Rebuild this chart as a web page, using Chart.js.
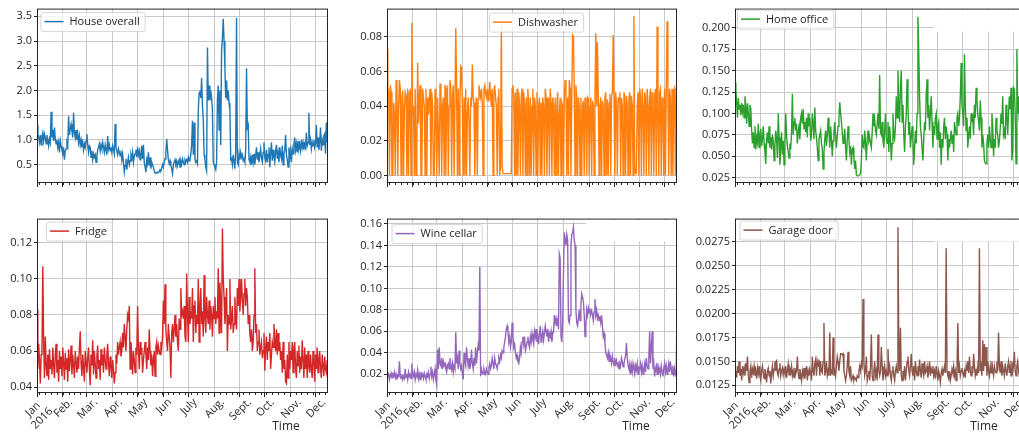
<!DOCTYPE html>
<html>
<head>
<meta charset="utf-8">
<script src="https://cdn.jsdelivr.net/npm/chart.js@4.4.1/dist/chart.umd.min.js"></script>
<style>
  html, body { margin: 0; padding: 0; background: #fff; overflow: hidden; }
  body { width: 1019px; height: 434px; position: relative; }
  canvas { position: absolute; }
</style>
</head>
<body>
<canvas id="c0"></canvas>
<canvas id="c1"></canvas>
<canvas id="c2"></canvas>
<canvas id="c3"></canvas>
<canvas id="c4"></canvas>
<canvas id="c5"></canvas>
<script>
// daily averages, 1 Jan 2016 (day 0) to 16 Dec 2016 (day 350)
const monthStarts = [0, 31, 60, 91, 121, 152, 182, 213, 244, 274, 305, 335];
const monthLabels = [['Jan', '2016'], 'Feb.', 'Mar.', 'Apr.', 'May', 'Jun', 'July', 'Aug.', 'Sept.', 'Oct.', 'Nov.', 'Dec.'];
const lastDay = 350;

const house = [
  1.30, 1.12, 1.05, 0.95, 1.10, 0.90, 1.08, 1.15, 0.98, 1.12,
  1.05, 0.92, 1.10, 1.00, 0.88, 1.02, 0.95, 1.57, 1.05, 1.20,
  0.98, 1.25, 1.02, 0.92, 1.00, 0.85, 0.95, 0.75, 0.98, 0.88,
  0.80, 0.72, 0.85, 0.60, 0.78, 0.82, 0.95, 0.88, 1.48, 1.10,
  1.22, 1.32, 1.18, 1.05, 1.55, 1.15, 1.05, 1.20, 1.00, 1.12,
  0.95, 1.08, 0.90, 1.00, 0.85, 0.95, 0.80, 0.92, 0.85, 0.98,
  1.12, 0.90, 0.75, 0.88, 0.85, 0.65, 0.78, 0.60, 0.72, 0.65,
  0.70, 0.55, 0.68, 0.80, 0.85, 0.92, 0.78, 0.90, 0.82, 0.95,
  0.85, 0.75, 0.90, 0.80, 0.70, 1.08, 0.82, 0.90, 0.78, 0.85,
  0.75, 0.88, 0.80, 0.72, 1.32, 0.85, 0.78, 0.70, 0.82, 0.75,
  0.68, 0.78, 0.60, 0.72, 0.55, 0.35, 0.48, 0.62, 0.40, 0.55,
  0.65, 0.50, 0.58, 0.70, 0.62, 0.75, 0.55, 0.68, 0.72, 0.80,
  0.65, 0.85, 0.70, 0.78, 0.60, 0.72, 0.88, 0.62, 0.90, 0.55,
  0.45, 0.35, 0.60, 0.52, 0.75, 0.48, 0.65, 0.42, 0.55, 0.50,
  0.45, 0.38, 0.33, 0.34, 0.33, 0.35, 0.34, 0.36, 0.40, 0.38,
  0.42, 0.50, 0.45, 0.55, 0.62, 0.75, 1.02, 0.80, 0.60, 0.52,
  0.58, 0.48, 0.42, 0.32, 0.50, 0.55, 0.60, 0.52, 0.58, 0.48,
  0.55, 0.60, 0.45, 0.58, 0.52, 0.62, 0.55, 0.50, 0.60, 0.56,
  0.60, 0.55, 0.65, 0.58, 0.62, 0.70, 0.90, 1.39, 0.70, 1.35,
  0.60, 0.55, 0.58, 0.52, 1.60, 1.95, 2.00, 1.85, 2.25, 1.70,
  1.40, 0.70, 0.60, 0.45, 0.38, 2.87, 1.80, 2.10, 1.80, 2.00,
  1.85, 1.60, 0.55, 0.50, 0.45, 0.40, 0.55, 1.80, 2.10, 1.20,
  2.00, 0.90, 2.80, 3.05, 3.45, 3.00, 2.45, 1.85, 2.20, 1.80,
  2.00, 1.75, 1.60, 0.60, 0.62, 0.50, 0.70, 0.55, 0.42, 0.80,
  3.47, 0.55, 0.50, 0.72, 0.60, 0.75, 0.65, 0.70, 0.58, 0.62,
  0.55, 0.80, 2.45, 1.25, 1.30, 0.60, 0.55, 0.65, 0.50, 0.70,
  0.55, 0.72, 0.50, 0.68, 0.85, 0.60, 0.75, 0.55, 0.70, 0.82,
  0.62, 0.55, 0.75, 0.95, 0.65, 0.58, 0.80, 0.55, 0.70, 0.85,
  0.45, 0.75, 0.95, 0.58, 0.80, 0.65, 0.55, 0.78, 0.90, 0.62,
  0.75, 0.55, 0.85, 0.70, 0.62, 0.88, 0.50, 0.72, 0.80, 1.10,
  0.70, 0.60, 0.45, 0.85, 0.65, 0.78, 0.55, 0.82, 0.72, 0.90,
  1.05, 0.80, 0.92, 0.75, 0.98, 0.82, 0.90, 0.78, 1.00, 0.85,
  0.95, 0.80, 0.92, 0.85, 1.15, 0.88, 0.95, 1.55, 0.90, 1.00,
  0.82, 0.95, 0.88, 1.00, 0.85, 0.92, 1.30, 0.85, 1.05, 0.80,
  0.95, 1.25, 0.78, 1.00, 0.90, 1.08, 1.12, 0.72, 1.35, 0.95,
  1.10
];

const dishwasher = [
  0.073, 0.045, 0.050, 0.000, 0.052, 0.048, 0.000, 0.000, 0.042, 0.035,
  0.000, 0.055, 0.045, 0.000, 0.040, 0.055, 0.050, 0.000, 0.045, 0.049,
  0.000, 0.040, 0.048, 0.046, 0.000, 0.050, 0.000, 0.048, 0.049, 0.000,
  0.088, 0.035, 0.040, 0.000, 0.050, 0.000, 0.015, 0.065, 0.030, 0.045,
  0.052, 0.000, 0.000, 0.050, 0.045, 0.040, 0.000, 0.050, 0.000, 0.045,
  0.035, 0.045, 0.050, 0.000, 0.048, 0.040, 0.000, 0.000, 0.050, 0.035,
  0.000, 0.045, 0.025, 0.000, 0.053, 0.050, 0.000, 0.040, 0.045, 0.000,
  0.052, 0.000, 0.048, 0.050, 0.000, 0.040, 0.055, 0.050, 0.000, 0.045,
  0.052, 0.000, 0.000, 0.085, 0.050, 0.000, 0.050, 0.000, 0.040, 0.063,
  0.062, 0.040, 0.000, 0.045, 0.000, 0.050, 0.000, 0.035, 0.045, 0.030,
  0.000, 0.045, 0.040, 0.064, 0.045, 0.042, 0.000, 0.040, 0.045, 0.000,
  0.044, 0.052, 0.048, 0.045, 0.050, 0.042, 0.000, 0.050, 0.052, 0.047,
  0.045, 0.050, 0.043, 0.048, 0.054, 0.046, 0.040, 0.050, 0.000, 0.048,
  0.052, 0.045, 0.040, 0.000, 0.045, 0.050, 0.000, 0.005, 0.086, 0.005,
  0.001, 0.001, 0.001, 0.001, 0.001, 0.001, 0.001, 0.001, 0.001, 0.001,
  0.001, 0.050, 0.052, 0.045, 0.000, 0.048, 0.000, 0.050, 0.000, 0.048,
  0.040, 0.000, 0.045, 0.050, 0.000, 0.048, 0.040, 0.000, 0.045, 0.000,
  0.050, 0.040, 0.000, 0.045, 0.000, 0.040, 0.050, 0.000, 0.045, 0.040,
  0.000, 0.048, 0.000, 0.040, 0.045, 0.000, 0.042, 0.000, 0.045, 0.040,
  0.000, 0.050, 0.045, 0.000, 0.040, 0.045, 0.000, 0.050, 0.042, 0.000,
  0.045, 0.040, 0.000, 0.045, 0.000, 0.040, 0.048, 0.000, 0.035, 0.045,
  0.000, 0.042, 0.040, 0.000, 0.045, 0.055, 0.050, 0.000, 0.045, 0.000,
  0.055, 0.050, 0.000, 0.045, 0.081, 0.080, 0.050, 0.000, 0.052, 0.045,
  0.000, 0.045, 0.040, 0.000, 0.045, 0.000, 0.040, 0.043, 0.000, 0.045,
  0.040, 0.000, 0.045, 0.044, 0.000, 0.040, 0.045, 0.000, 0.043, 0.040,
  0.000, 0.045, 0.082, 0.040, 0.077, 0.045, 0.000, 0.040, 0.045, 0.000,
  0.043, 0.040, 0.000, 0.045, 0.048, 0.000, 0.044, 0.000, 0.042, 0.047,
  0.000, 0.045, 0.048, 0.081, 0.045, 0.000, 0.048, 0.040, 0.000, 0.045,
  0.042, 0.048, 0.000, 0.045, 0.040, 0.000, 0.048, 0.045, 0.000, 0.046,
  0.040, 0.000, 0.045, 0.048, 0.000, 0.046, 0.040, 0.000, 0.092, 0.005,
  0.001, 0.001, 0.040, 0.048, 0.000, 0.050, 0.045, 0.000, 0.050, 0.040,
  0.000, 0.048, 0.045, 0.000, 0.050, 0.040, 0.000, 0.045, 0.050, 0.000,
  0.048, 0.040, 0.000, 0.045, 0.050, 0.000, 0.086, 0.035, 0.000, 0.048,
  0.050, 0.000, 0.045, 0.040, 0.000, 0.050, 0.000, 0.048, 0.089, 0.050,
  0.000, 0.050, 0.045, 0.000, 0.050, 0.000, 0.048, 0.050, 0.000, 0.050,
  0.050
];

const homeOffice = [
  0.136, 0.128, 0.112, 0.095, 0.118, 0.105, 0.110, 0.098, 0.112, 0.102,
  0.110, 0.095, 0.120, 0.108, 0.088, 0.112, 0.100, 0.085, 0.110, 0.105,
  0.080, 0.065, 0.078, 0.060, 0.085, 0.058, 0.072, 0.066, 0.088, 0.060,
  0.075, 0.082, 0.062, 0.070, 0.085, 0.065, 0.055, 0.041, 0.070, 0.078,
  0.065, 0.085, 0.060, 0.072, 0.058, 0.075, 0.068, 0.045, 0.062, 0.080,
  0.070, 0.048, 0.100, 0.072, 0.040, 0.060, 0.078, 0.052, 0.068, 0.040,
  0.060, 0.100, 0.075, 0.062, 0.055, 0.048, 0.065, 0.058, 0.078, 0.123,
  0.075, 0.090, 0.095, 0.080, 0.088, 0.065, 0.078, 0.085, 0.070, 0.095,
  0.100, 0.088, 0.105, 0.082, 0.090, 0.078, 0.095, 0.072, 0.100, 0.085,
  0.095, 0.068, 0.075, 0.100, 0.088, 0.070, 0.107, 0.080, 0.072, 0.060,
  0.045, 0.070, 0.075, 0.080, 0.065, 0.058, 0.035, 0.055, 0.070, 0.080,
  0.062, 0.075, 0.095, 0.078, 0.060, 0.085, 0.070, 0.050, 0.068, 0.078,
  0.090, 0.072, 0.060, 0.075, 0.085, 0.095, 0.113, 0.100, 0.090, 0.078,
  0.065, 0.070, 0.082, 0.060, 0.045, 0.068, 0.085, 0.070, 0.055, 0.062,
  0.040, 0.058, 0.060, 0.048, 0.035, 0.045, 0.028, 0.027, 0.027, 0.027,
  0.028, 0.030, 0.045, 0.075, 0.062, 0.060, 0.080, 0.065, 0.045, 0.070,
  0.080, 0.068, 0.072, 0.065, 0.060, 0.078, 0.100, 0.085, 0.092, 0.080,
  0.075, 0.088, 0.100, 0.082, 0.145, 0.078, 0.075, 0.090, 0.068, 0.060,
  0.080, 0.100, 0.072, 0.065, 0.090, 0.055, 0.085, 0.070, 0.045, 0.065,
  0.100, 0.075, 0.070, 0.085, 0.120, 0.095, 0.150, 0.110, 0.090, 0.130,
  0.150, 0.090, 0.110, 0.075, 0.055, 0.085, 0.100, 0.140, 0.110, 0.075,
  0.090, 0.060, 0.072, 0.085, 0.070, 0.040, 0.060, 0.080, 0.065, 0.100,
  0.213, 0.170, 0.120, 0.085, 0.075, 0.060, 0.045, 0.070, 0.090, 0.080,
  0.122, 0.140, 0.095, 0.110, 0.080, 0.100, 0.120, 0.090, 0.060, 0.085,
  0.075, 0.095, 0.100, 0.070, 0.085, 0.090, 0.060, 0.078, 0.040, 0.070,
  0.060, 0.085, 0.095, 0.070, 0.085, 0.075, 0.045, 0.070, 0.060, 0.070,
  0.080, 0.065, 0.075, 0.055, 0.090, 0.082, 0.075, 0.095, 0.100, 0.085,
  0.095, 0.120, 0.159, 0.110, 0.100, 0.085, 0.169, 0.110, 0.080, 0.095,
  0.060, 0.075, 0.085, 0.070, 0.100, 0.090, 0.095, 0.075, 0.110, 0.095,
  0.130, 0.115, 0.100, 0.090, 0.080, 0.115, 0.095, 0.060, 0.075, 0.065,
  0.045, 0.042, 0.041, 0.065, 0.075, 0.060, 0.085, 0.070, 0.060, 0.100,
  0.085, 0.050, 0.070, 0.060, 0.095, 0.080, 0.075, 0.060, 0.068, 0.082,
  0.100, 0.088, 0.120, 0.075, 0.080, 0.070, 0.110, 0.095, 0.075, 0.100,
  0.120, 0.105, 0.130, 0.045, 0.060, 0.130, 0.128, 0.100, 0.041, 0.175,
  0.100, 0.120, 0.090, 0.110, 0.080, 0.095, 0.105, 0.085, 0.100, 0.090,
  0.110
];

const fridge = [
  0.083, 0.050, 0.064, 0.055, 0.042, 0.058, 0.060, 0.107, 0.065, 0.045,
  0.068, 0.052, 0.046, 0.058, 0.044, 0.061, 0.050, 0.055, 0.047, 0.062,
  0.052, 0.045, 0.058, 0.064, 0.048, 0.055, 0.043, 0.060, 0.050, 0.057,
  0.046, 0.062, 0.053, 0.044, 0.059, 0.050, 0.056, 0.043, 0.061, 0.049,
  0.055, 0.063, 0.047, 0.058, 0.052, 0.045, 0.060, 0.054, 0.048, 0.057,
  0.050, 0.062, 0.071, 0.053, 0.046, 0.058, 0.051, 0.043, 0.060, 0.054,
  0.048, 0.056, 0.062, 0.050, 0.041, 0.058, 0.052, 0.066, 0.047, 0.060,
  0.053, 0.045, 0.057, 0.063, 0.050, 0.055, 0.044, 0.061, 0.052, 0.058,
  0.048, 0.062, 0.055, 0.050, 0.058, 0.064, 0.053, 0.046, 0.057, 0.052,
  0.045, 0.055, 0.050, 0.042, 0.048, 0.058, 0.053, 0.065, 0.058, 0.062,
  0.065, 0.057, 0.060, 0.070, 0.062, 0.075, 0.068, 0.060, 0.072, 0.080,
  0.078, 0.085, 0.050, 0.065, 0.058, 0.047, 0.060, 0.055, 0.048, 0.062,
  0.058, 0.085, 0.060, 0.050, 0.065, 0.058, 0.062, 0.048, 0.055, 0.060,
  0.065, 0.058, 0.050, 0.062, 0.055, 0.072, 0.060, 0.052, 0.058, 0.046,
  0.055, 0.060, 0.046, 0.062, 0.065, 0.058, 0.063, 0.060, 0.058, 0.065,
  0.062, 0.068, 0.088, 0.075, 0.097, 0.072, 0.065, 0.060, 0.075, 0.068,
  0.062, 0.045, 0.070, 0.075, 0.065, 0.072, 0.080, 0.068, 0.075, 0.065,
  0.060, 0.078, 0.072, 0.095, 0.080, 0.082, 0.078, 0.085, 0.068, 0.065,
  0.103, 0.080, 0.065, 0.090, 0.075, 0.082, 0.078, 0.095, 0.065, 0.085,
  0.088, 0.070, 0.080, 0.075, 0.100, 0.065, 0.085, 0.095, 0.075, 0.082,
  0.068, 0.102, 0.078, 0.070, 0.090, 0.080, 0.075, 0.088, 0.072, 0.085,
  0.080, 0.068, 0.085, 0.078, 0.090, 0.075, 0.082, 0.078, 0.106, 0.070,
  0.098, 0.085, 0.070, 0.128, 0.100, 0.090, 0.075, 0.082, 0.095, 0.060,
  0.080, 0.075, 0.100, 0.072, 0.078, 0.085, 0.070, 0.075, 0.090, 0.078,
  0.072, 0.095, 0.085, 0.100, 0.082, 0.090, 0.100, 0.088, 0.080, 0.092,
  0.100, 0.085, 0.095, 0.090, 0.075, 0.080, 0.070, 0.065, 0.072, 0.060,
  0.065, 0.080, 0.106, 0.070, 0.075, 0.060, 0.065, 0.072, 0.058, 0.062,
  0.065, 0.056, 0.060, 0.070, 0.049, 0.062, 0.068, 0.055, 0.065, 0.060,
  0.070, 0.050, 0.058, 0.065, 0.062, 0.075, 0.065, 0.060, 0.072, 0.058,
  0.070, 0.060, 0.065, 0.055, 0.060, 0.048, 0.065, 0.050, 0.055, 0.043,
  0.042, 0.058, 0.045, 0.065, 0.050, 0.060, 0.055, 0.065, 0.048, 0.062,
  0.065, 0.050, 0.045, 0.060, 0.052, 0.063, 0.048, 0.057, 0.050, 0.066,
  0.055, 0.045, 0.062, 0.050, 0.058, 0.045, 0.060, 0.052, 0.048, 0.058,
  0.050, 0.045, 0.060, 0.055, 0.043, 0.058, 0.050, 0.062, 0.048, 0.055,
  0.060, 0.050, 0.045, 0.058, 0.052, 0.046, 0.057, 0.050, 0.048, 0.055,
  0.043
];

const wineCellar = [
  0.022, 0.018, 0.020, 0.015, 0.019, 0.021, 0.016, 0.020, 0.018, 0.022,
  0.017, 0.020, 0.015, 0.019, 0.018, 0.032, 0.018, 0.016, 0.020, 0.015,
  0.018, 0.016, 0.025, 0.017, 0.020, 0.015, 0.022, 0.018, 0.020, 0.016,
  0.030, 0.020, 0.018, 0.022, 0.015, 0.020, 0.018, 0.024, 0.016, 0.020,
  0.015, 0.022, 0.018, 0.020, 0.016, 0.021, 0.018, 0.015, 0.020, 0.018,
  0.022, 0.016, 0.020, 0.027, 0.018, 0.022, 0.015, 0.020, 0.025, 0.014,
  0.010, 0.043, 0.025, 0.045, 0.030, 0.028, 0.035, 0.025, 0.032, 0.028,
  0.030, 0.025, 0.022, 0.028, 0.030, 0.025, 0.035, 0.028, 0.024, 0.030,
  0.022, 0.028, 0.025, 0.059, 0.030, 0.035, 0.025, 0.042, 0.030, 0.025,
  0.028, 0.020, 0.015, 0.040, 0.032, 0.028, 0.045, 0.035, 0.028, 0.035,
  0.025, 0.030, 0.043, 0.030, 0.025, 0.035, 0.028, 0.045, 0.030, 0.040,
  0.047, 0.042, 0.120, 0.018, 0.025, 0.022, 0.020, 0.025, 0.022, 0.020,
  0.025, 0.022, 0.020, 0.026, 0.030, 0.025, 0.028, 0.035, 0.030, 0.025,
  0.035, 0.030, 0.028, 0.025, 0.030, 0.035, 0.032, 0.038, 0.035, 0.042,
  0.040, 0.045, 0.050, 0.055, 0.062, 0.065, 0.060, 0.050, 0.055, 0.045,
  0.050, 0.068, 0.055, 0.045, 0.048, 0.040, 0.035, 0.038, 0.032, 0.030,
  0.035, 0.045, 0.040, 0.050, 0.055, 0.048, 0.055, 0.042, 0.045, 0.050,
  0.055, 0.048, 0.045, 0.055, 0.050, 0.058, 0.052, 0.048, 0.060, 0.055,
  0.062, 0.050, 0.055, 0.048, 0.058, 0.065, 0.050, 0.055, 0.060, 0.052,
  0.058, 0.065, 0.060, 0.055, 0.062, 0.050, 0.058, 0.055, 0.060, 0.050,
  0.058, 0.060, 0.075, 0.068, 0.072, 0.065, 0.070, 0.062, 0.132, 0.128,
  0.055, 0.050, 0.068, 0.115, 0.152, 0.145, 0.140, 0.150, 0.145, 0.070,
  0.068, 0.075, 0.140, 0.150, 0.152, 0.157, 0.145, 0.140, 0.080, 0.068,
  0.065, 0.072, 0.080, 0.070, 0.085, 0.095, 0.092, 0.088, 0.075, 0.055,
  0.065, 0.080, 0.075, 0.082, 0.078, 0.080, 0.076, 0.079, 0.075, 0.070,
  0.078, 0.090, 0.075, 0.080, 0.072, 0.075, 0.070, 0.074, 0.068, 0.075,
  0.065, 0.055, 0.058, 0.050, 0.040, 0.038, 0.035, 0.040, 0.032, 0.038,
  0.035, 0.030, 0.037, 0.032, 0.028, 0.035, 0.030, 0.033, 0.028, 0.030,
  0.025, 0.030, 0.028, 0.035, 0.032, 0.027, 0.030, 0.034, 0.038, 0.049,
  0.035, 0.028, 0.025, 0.030, 0.020, 0.028, 0.022, 0.030, 0.025, 0.020,
  0.028, 0.024, 0.030, 0.020, 0.026, 0.025, 0.030, 0.022, 0.028, 0.020,
  0.025, 0.030, 0.022, 0.035, 0.028, 0.025, 0.035, 0.060, 0.030, 0.045,
  0.060, 0.025, 0.030, 0.018, 0.025, 0.028, 0.020, 0.030, 0.022, 0.025,
  0.020, 0.028, 0.023, 0.018, 0.025, 0.030, 0.022, 0.028, 0.020, 0.025,
  0.030, 0.022, 0.032, 0.025, 0.020, 0.028, 0.018, 0.025, 0.020, 0.018,
  0.085
];

const garageDoor = [
  0.0135, 0.0140, 0.0133, 0.0145, 0.0138, 0.0150, 0.0135, 0.0142, 0.0130, 0.0145,
  0.0138, 0.0143, 0.0135, 0.0148, 0.0140, 0.0155, 0.0135, 0.0128, 0.0140, 0.0145,
  0.0133, 0.0142, 0.0138, 0.0145, 0.0135, 0.0140, 0.0132, 0.0143, 0.0137, 0.0145,
  0.0135, 0.0130, 0.0140, 0.0145, 0.0138, 0.0132, 0.0142, 0.0136, 0.0128, 0.0140,
  0.0143, 0.0135, 0.0140, 0.0127, 0.0138, 0.0145, 0.0135, 0.0142, 0.0150, 0.0140,
  0.0152, 0.0138, 0.0135, 0.0142, 0.0148, 0.0135, 0.0140, 0.0143, 0.0136, 0.0142,
  0.0138, 0.0145, 0.0133, 0.0140, 0.0147, 0.0136, 0.0142, 0.0138, 0.0145, 0.0135,
  0.0140, 0.0133, 0.0143, 0.0137, 0.0140, 0.0155, 0.0138, 0.0132, 0.0142, 0.0136,
  0.0130, 0.0140, 0.0135, 0.0143, 0.0132, 0.0138, 0.0145, 0.0130, 0.0140, 0.0135,
  0.0142, 0.0138, 0.0130, 0.0155, 0.0140, 0.0135, 0.0148, 0.0152, 0.0135, 0.0150,
  0.0145, 0.0152, 0.0135, 0.0150, 0.0140, 0.0138, 0.0150, 0.0190, 0.0135, 0.0140,
  0.0150, 0.0135, 0.0140, 0.0135, 0.0180, 0.0135, 0.0140, 0.0138, 0.0175, 0.0135,
  0.0140, 0.0135, 0.0145, 0.0155, 0.0150, 0.0140, 0.0150, 0.0158, 0.0158, 0.0157,
  0.0158, 0.0140, 0.0135, 0.0130, 0.0135, 0.0145, 0.0160, 0.0140, 0.0135, 0.0145,
  0.0130, 0.0132, 0.0135, 0.0130, 0.0133, 0.0132, 0.0130, 0.0135, 0.0133, 0.0140,
  0.0145, 0.0140, 0.0148, 0.0145, 0.0215, 0.0150, 0.0135, 0.0140, 0.0155, 0.0130,
  0.0135, 0.0140, 0.0130, 0.0145, 0.0178, 0.0135, 0.0130, 0.0140, 0.0150, 0.0135,
  0.0140, 0.0130, 0.0178, 0.0140, 0.0135, 0.0140, 0.0165, 0.0145, 0.0130, 0.0138,
  0.0145, 0.0135, 0.0140, 0.0135, 0.0163, 0.0140, 0.0145, 0.0135, 0.0130, 0.0140,
  0.0145, 0.0135, 0.0130, 0.0140, 0.0145, 0.0138, 0.0290, 0.0165, 0.0140, 0.0185,
  0.0135, 0.0130, 0.0140, 0.0135, 0.0145, 0.0130, 0.0140, 0.0150, 0.0155, 0.0140,
  0.0135, 0.0145, 0.0158, 0.0140, 0.0135, 0.0145, 0.0130, 0.0150, 0.0140, 0.0135,
  0.0145, 0.0135, 0.0152, 0.0140, 0.0133, 0.0148, 0.0140, 0.0135, 0.0150, 0.0138,
  0.0140, 0.0145, 0.0133, 0.0140, 0.0150, 0.0135, 0.0142, 0.0138, 0.0145, 0.0135,
  0.0140, 0.0132, 0.0145, 0.0138, 0.0130, 0.0140, 0.0135, 0.0128, 0.0138, 0.0142,
  0.0135, 0.0140, 0.0145, 0.0138, 0.0268, 0.0140, 0.0135, 0.0132, 0.0140, 0.0130,
  0.0135, 0.0142, 0.0138, 0.0145, 0.0135, 0.0140, 0.0130, 0.0142, 0.0190, 0.0138,
  0.0145, 0.0135, 0.0140, 0.0143, 0.0138, 0.0135, 0.0140, 0.0133, 0.0145, 0.0140,
  0.0150, 0.0138, 0.0155, 0.0140, 0.0135, 0.0145, 0.0138, 0.0158, 0.0145, 0.0135,
  0.0140, 0.0135, 0.0145, 0.0138, 0.0268, 0.0140, 0.0145, 0.0135, 0.0172, 0.0140,
  0.0168, 0.0145, 0.0165, 0.0135, 0.0150, 0.0140, 0.0135, 0.0145, 0.0138, 0.0150,
  0.0140, 0.0135, 0.0145, 0.0140, 0.0138, 0.0150, 0.0140, 0.0180, 0.0145, 0.0138,
  0.0150, 0.0135, 0.0145, 0.0140, 0.0135, 0.0148, 0.0140, 0.0135, 0.0145, 0.0150,
  0.0138, 0.0145, 0.0135, 0.0150, 0.0140, 0.0145, 0.0160, 0.0140, 0.0135, 0.0145,
  0.0150, 0.0140, 0.0135, 0.0145, 0.0138, 0.0150, 0.0140, 0.0145, 0.0135, 0.0140,
  0.0145
];

const houseTicks = [0.5, 1.0, 1.5, 2.0, 2.5, 3.0, 3.5];
const dishwasherTicks = [0.00, 0.02, 0.04, 0.06, 0.08];
const homeOfficeTicks = [0.025, 0.050, 0.075, 0.100, 0.125, 0.150, 0.175, 0.200];
const fridgeTicks = [0.04, 0.06, 0.08, 0.10, 0.12];
const wineCellarTicks = [0.02, 0.04, 0.06, 0.08, 0.10, 0.12, 0.14, 0.16];
const garageDoorTicks = [0.0125, 0.0150, 0.0175, 0.0200, 0.0225, 0.0250, 0.0275];

const FONT = '"Open Sans", "DejaVu Sans", sans-serif';
const GRID = '#c9c9c9';
const INK = '#262626';
const Y_AXIS_W = 40, PAD_TOP = 7, PAD_RIGHT = 8, PLOT_H = 176;

const panels = [
  { id: 'c0', label: 'House overall', values: house, yTicks: houseTicks, digits: 1,
    color: '#1f77b4', left: 37, top: 7, width: 291, yMin: 0.13, yMax: 3.655,
    legend: { dx: 7.5, dy: 13 }, bottomRow: false, blank: false },
  { id: 'c1', label: 'Dishwasher', values: dishwasher, yTicks: dishwasherTicks, digits: 2,
    color: '#ff7f0e', left: 387, top: 7, width: 290, yMin: -0.0044, yMax: 0.0963,
    legend: { dx: 106, dy: 13.5 }, bottomRow: false, blank: false },
  { id: 'c2', label: 'Home office', values: homeOffice, yTicks: homeOfficeTicks, digits: 3,
    color: '#2ca02c', left: 735, top: 7, width: 291, yMin: 0.0187, yMax: 0.2225,
    legend: { dx: 6, dy: 10.5 }, bottomRow: false, blank: true },
  { id: 'c3', label: 'Fridge', values: fridge, yTicks: fridgeTicks, digits: 2,
    color: '#d62728', left: 37, top: 217, width: 291, yMin: 0.0367, yMax: 0.1335,
    legend: { dx: 13, dy: 12.5 }, bottomRow: true, blank: false },
  { id: 'c4', label: 'Wine cellar', values: wineCellar, yTicks: wineCellarTicks, digits: 2,
    color: '#9467bd', left: 387, top: 217, width: 290, yMin: 0.0025, yMax: 0.165,
    legend: { dx: 8.5, dy: 15 }, bottomRow: true, blank: true },
  { id: 'c5', label: 'Garage door', values: garageDoor, yTicks: garageDoorTicks, digits: 4,
    color: '#8c564b', left: 735, top: 217, width: 291, yMin: 0.0117, yMax: 0.0299,
    legend: { dx: 8.5, dy: 11.5 }, bottomRow: true, blank: true }
];

// month labels, rotated 45 degrees and centred under their tick
function drawMonthLabels(ctx, x, a) {
  const size = 11, lineH = 13, capH = 7.9, c = Math.SQRT1_2;
  ctx.font = size + 'px ' + FONT;
  ctx.fillStyle = INK;
  ctx.textAlign = 'center';
  ctx.textBaseline = 'alphabetic';
  monthStarts.forEach((d, i) => {
    const lines = [].concat(monthLabels[i]);
    const w = Math.max(...lines.map(t => ctx.measureText(t).width));
    const h = capH + (lines.length - 1) * lineH;
    const side = (w + h) * c;
    ctx.save();
    ctx.translate(x.getPixelForValue(d), a.bottom + 4 + side / 2);
    ctx.rotate(-Math.PI / 4);
    lines.forEach((t, k) => {
      ctx.fillText(t, 0, (k - (lines.length - 1) / 2) * lineH + capH / 2);
    });
    ctx.restore();
  });
}

// frame, weekly minor ticks, inset legend and the "Time" axis caption
const panelDecor = {
  id: 'panelDecor',
  afterDatasetsDraw(chart, args, opts) {
    const { ctx, chartArea: a } = chart;
    const x = chart.scales.x;
    ctx.save();

    if (opts.blank) {
      ctx.fillStyle = '#fff';
      ctx.fillRect(a.left + 199, a.top + 1, a.right - a.left - 200, 22);
    }

    ctx.strokeStyle = INK;
    ctx.lineWidth = 1;
    ctx.beginPath();
    for (let d = 3; d <= lastDay; d += 7) {
      const px = Math.round(x.getPixelForValue(d)) + 0.5;
      ctx.moveTo(px, a.bottom);
      ctx.lineTo(px, a.bottom + 2);
    }
    ctx.stroke();
    ctx.strokeRect(a.left + 0.5, a.top + 0.5, a.right - a.left - 1, a.bottom - a.top - 1);

    // legend box
    const ds = chart.data.datasets[0];
    ctx.font = '11px ' + FONT;
    const tw = ctx.measureText(ds.label).width;
    const lx = a.left + opts.dx, ly = a.top + opts.dy;
    const bx = lx - 4, by = ly - 9.5, bw = 19 + 6 + tw + 9, bh = 19;
    ctx.fillStyle = 'rgba(255,255,255,0.8)';
    ctx.strokeStyle = 'rgba(204,204,204,0.8)';
    ctx.beginPath();
    ctx.roundRect(bx + 0.5, by + 0.5, bw, bh, 2);
    ctx.fill();
    ctx.stroke();
    ctx.strokeStyle = ds.borderColor;
    ctx.lineWidth = 1.5;
    ctx.beginPath();
    ctx.moveTo(lx, ly);
    ctx.lineTo(lx + 19, ly);
    ctx.stroke();
    ctx.fillStyle = INK;
    ctx.textBaseline = 'middle';
    ctx.textAlign = 'left';
    ctx.fillText(ds.label, lx + 25, ly + 0.5);

    if (opts.caption) {
      drawMonthLabels(ctx, x, a);
      ctx.font = '12px ' + FONT;
      ctx.fillStyle = INK;
      ctx.textAlign = 'center';
      ctx.textBaseline = 'alphabetic';
      ctx.fillText('Time', a.left + 249, a.bottom + 37);
    }
    ctx.restore();
  }
};

panels.forEach(p => {
  const canvas = document.getElementById(p.id);
  const bottomH = p.bottomRow ? 45 : 12;
  canvas.width = Y_AXIS_W + p.width + PAD_RIGHT;
  canvas.height = PAD_TOP + PLOT_H + bottomH;
  canvas.style.left = (p.left - Y_AXIS_W) + 'px';
  canvas.style.top = (p.top - PAD_TOP) + 'px';

  new Chart(canvas, {
    type: 'line',
    data: {
      datasets: [{
        label: p.label,
        data: p.values.map((v, day) => ({ x: day, y: v })),
        borderColor: p.color,
        borderWidth: 1.4,
        pointRadius: 0,
        tension: 0,
        fill: false
      }]
    },
    options: {
      responsive: false,
      animation: false,
      events: [],
      layout: { padding: { top: PAD_TOP, right: PAD_RIGHT, left: 0, bottom: 0 } },
      plugins: {
        legend: { display: false },
        tooltip: { enabled: false },
        panelDecor: { dx: p.legend.dx, dy: p.legend.dy, caption: p.bottomRow, blank: p.blank }
      },
      scales: {
        x: {
          type: 'linear',
          min: 0,
          max: lastDay,
          afterBuildTicks: s => { s.ticks = monthStarts.map(v => ({ value: v })); },
          afterFit: s => { s.height = bottomH; },
          border: { display: false },
          grid: { color: GRID, lineWidth: 1, drawTicks: true, tickLength: 4, tickColor: INK },
          ticks: { display: false }
        },
        y: {
          min: p.yMin,
          max: p.yMax,
          afterBuildTicks: s => { s.ticks = p.yTicks.map(v => ({ value: v })); },
          afterFit: s => { s.width = Y_AXIS_W; },
          border: { display: false },
          grid: { color: GRID, lineWidth: 1, drawTicks: true, tickLength: 3, tickColor: INK },
          ticks: {
            padding: 2,
            color: INK,
            font: { family: FONT, size: 11 },
            callback: v => v.toFixed(p.digits)
          }
        }
      }
    },
    plugins: [panelDecor]
  });
});
</script>
</body>
</html>
